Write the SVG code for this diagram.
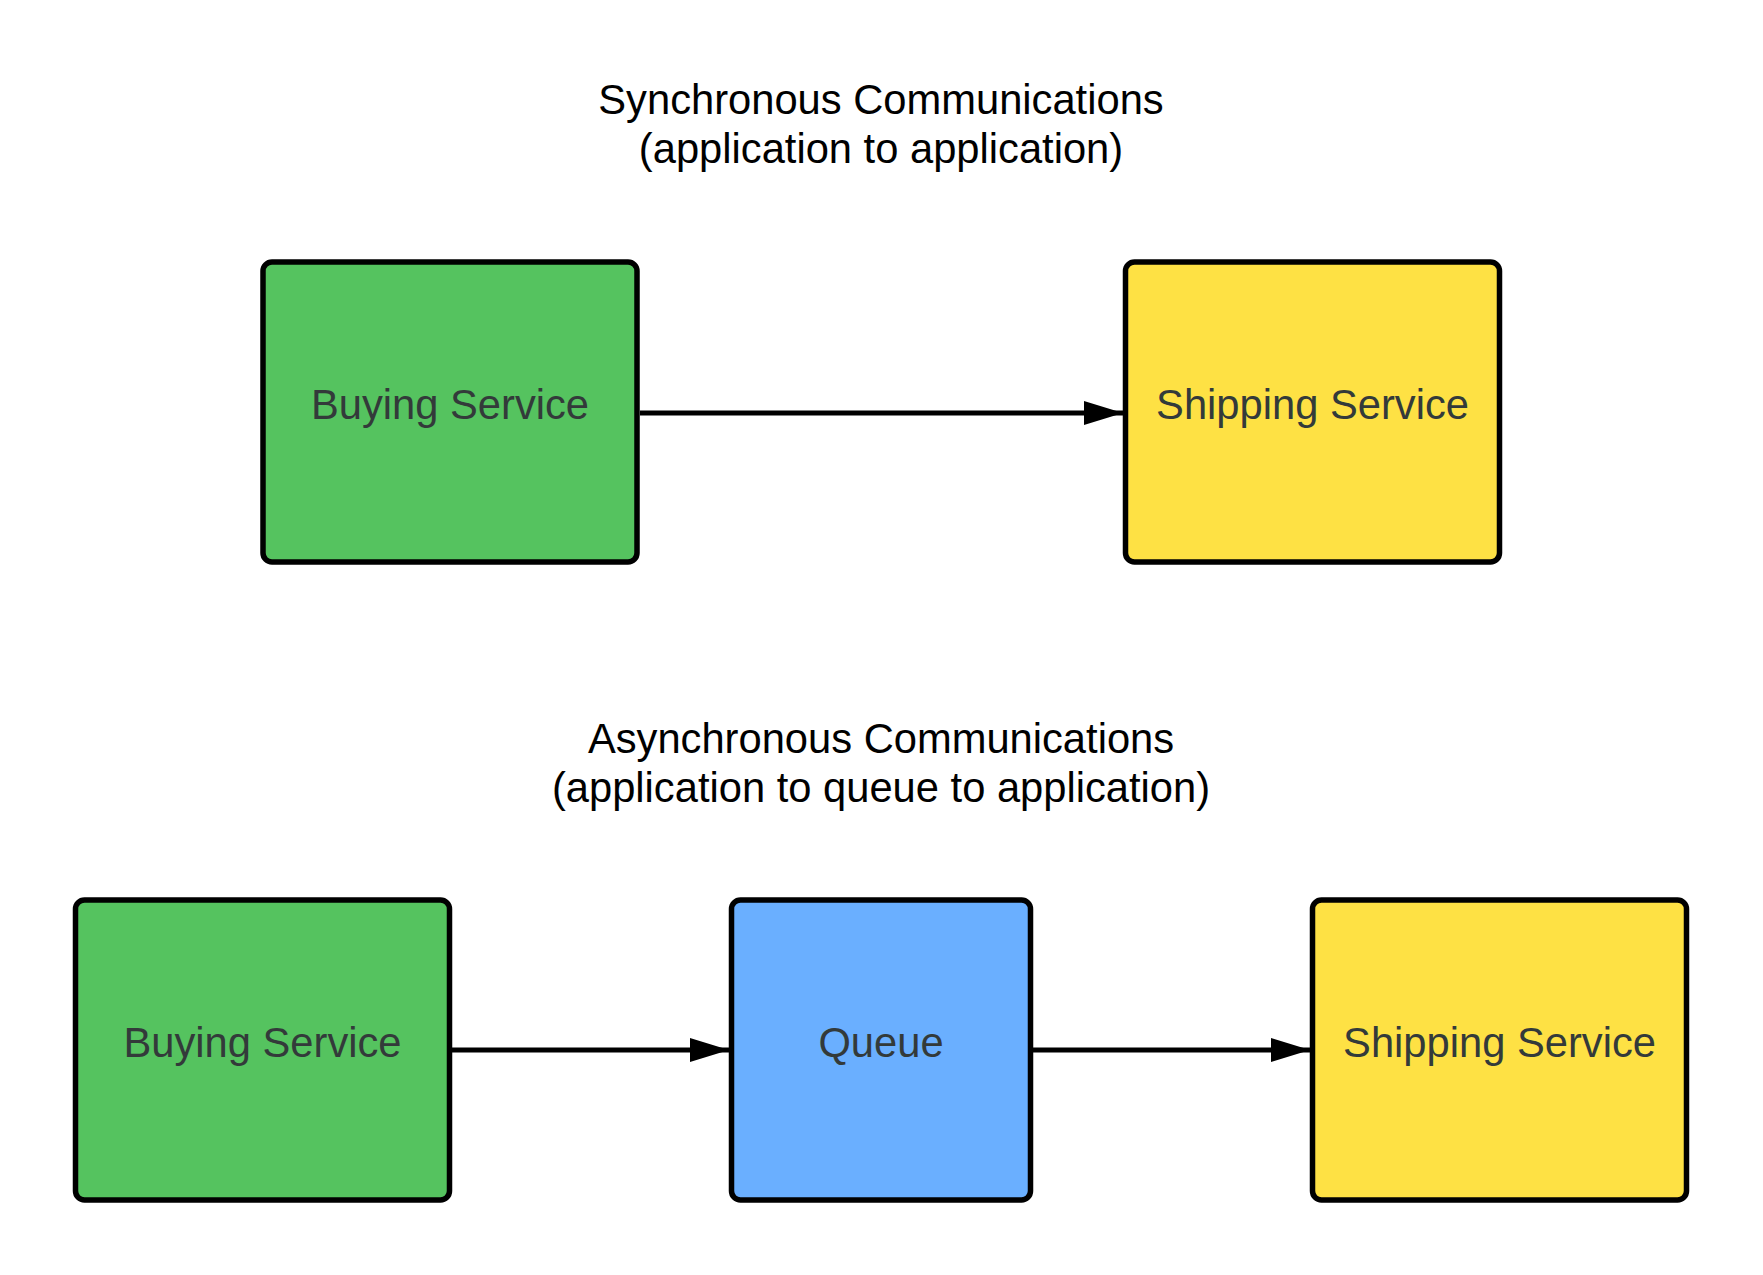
<svg xmlns="http://www.w3.org/2000/svg" width="1763" height="1275" viewBox="0 0 1763 1275">
<style>
.box{stroke:#000;stroke-width:5.5}
.green{fill:#55c35f}
.yellow{fill:#fee144}
.blue{fill:#6aafff}
.lbl{font-family:"Liberation Sans",Arial,sans-serif;font-size:41.7px;fill:#333a3a;text-anchor:middle}
.title{font-family:"Liberation Sans",Arial,sans-serif;font-size:41.7px;fill:#000;text-anchor:middle}
.edge{stroke:#000;stroke-width:5;fill:none}
</style>
<defs>
<marker id="arrow" markerUnits="userSpaceOnUse" markerWidth="40" markerHeight="26" refX="39" refY="12" orient="auto">
<path d="M0,0 L39,12 L0,24 Z" fill="#000"/>
</marker>
</defs>
<rect width="1763" height="1275" fill="#fff"/>
<g id="title-sync">
<text class="title" x="881" y="114">Synchronous Communications</text>
<text class="title" x="881" y="163">(application to application)</text>
</g>
<g id="title-async">
<text class="title" x="881" y="753">Asynchronous Communications</text>
<text class="title" x="881" y="802">(application to queue to application)</text>
</g>
<g id="connectors">
<line class="edge" x1="640" y1="413" x2="1123" y2="413" marker-end="url(#arrow)"/>
<line class="edge" x1="452" y1="1050" x2="729" y2="1050" marker-end="url(#arrow)"/>
<line class="edge" x1="1033" y1="1050" x2="1310" y2="1050" marker-end="url(#arrow)"/>
</g>
<g id="sync-buying">
<rect class="box green" x="263" y="262" width="374" height="300" rx="9"/>
<text class="lbl" x="450" y="419">Buying Service</text>
</g>
<g id="sync-shipping">
<rect class="box yellow" x="1125.5" y="262" width="374" height="300" rx="9"/>
<text class="lbl" x="1312.5" y="419">Shipping Service</text>
</g>
<g id="async-buying">
<rect class="box green" x="75.5" y="900" width="374" height="300" rx="9"/>
<text class="lbl" x="262.5" y="1057">Buying Service</text>
</g>
<g id="async-queue">
<rect class="box blue" x="731.5" y="900" width="299" height="300" rx="9"/>
<text class="lbl" x="881" y="1057">Queue</text>
</g>
<g id="async-shipping">
<rect class="box yellow" x="1312.5" y="900" width="374" height="300" rx="9"/>
<text class="lbl" x="1499.5" y="1057">Shipping Service</text>
</g>
</svg>
